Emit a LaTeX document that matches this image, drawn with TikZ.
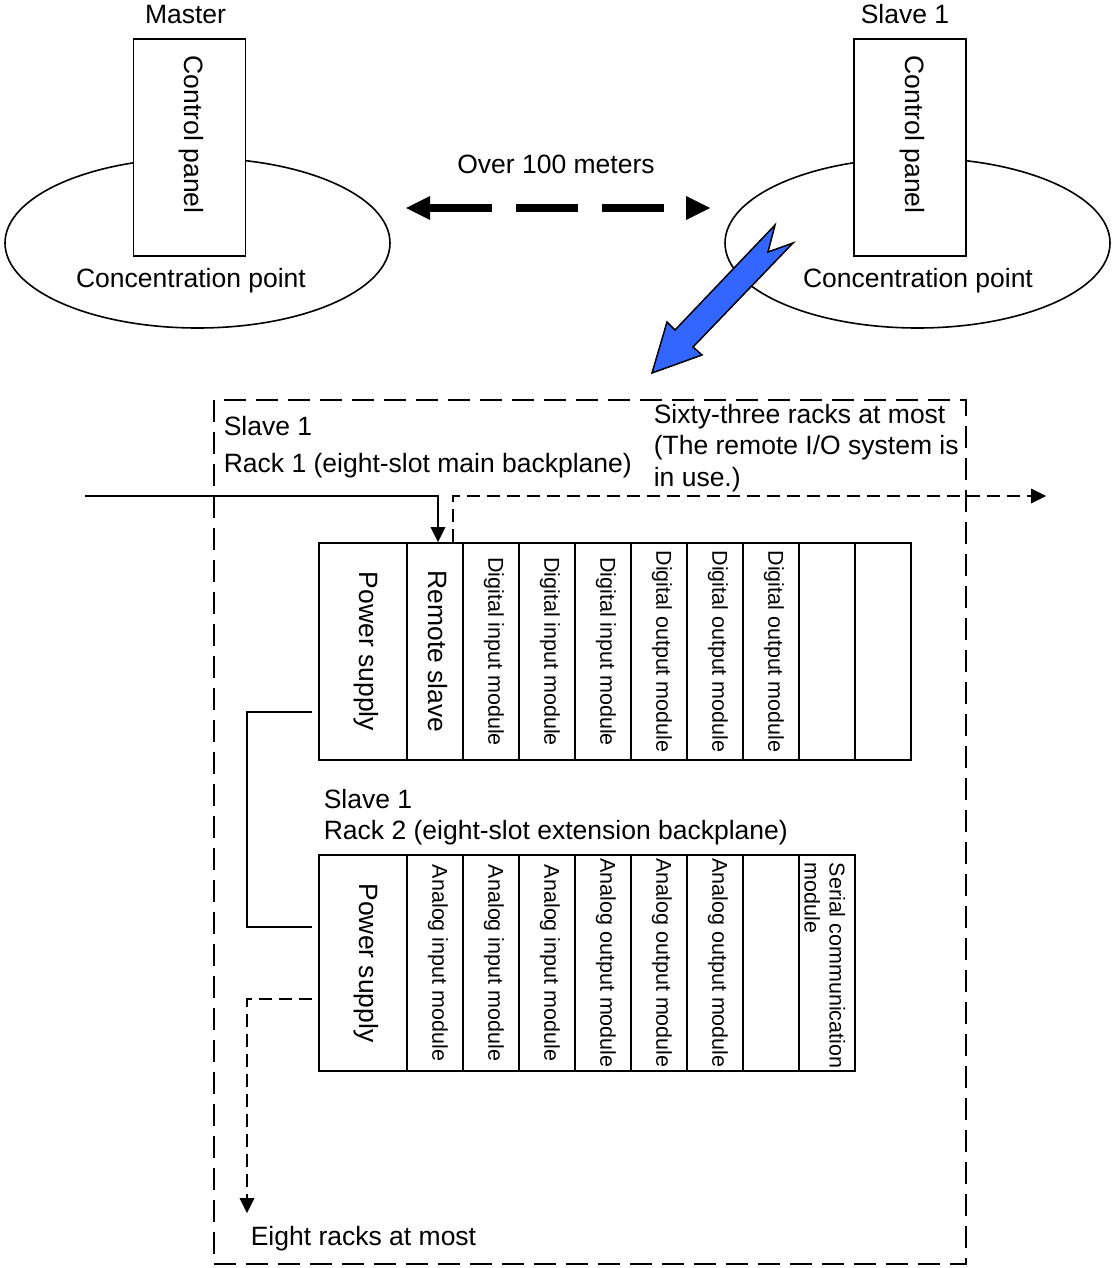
\documentclass[tikz,border=0pt]{standalone}
\usepackage{fontspec}
\setmainfont{Liberation Sans}
\usepackage{graphicx}
\usetikzlibrary{arrows.meta,shapes.geometric}
\definecolor{arrowblue}{RGB}{51,102,255}
% rotated slot caption, nudged towards the cap side without changing its box
\newcommand{\slotcaption}[1]{\rotatebox{-90}{\raisebox{3pt}[\height][\depth]{#1}}}

\begin{document}
\begin{tikzpicture}[x=1pt,y=-1pt,
  line width=1.6pt,
  big/.style={font=\fontsize{26.5}{31.5}\selectfont},
  small/.style={font=\fontsize{21.5}{25}\selectfont},
  txt/.style={inner sep=0pt},
  zone/.style={draw, ellipse, minimum width=385pt, minimum height=170pt, inner sep=0pt},
  panel/.style={draw, fill=white, minimum width=112pt, minimum height=217pt, inner sep=0pt},
  slot/.style={draw, inner sep=0pt, minimum width=56pt},
  psslot/.style={slot, minimum width=88pt},
  rackone/.style={minimum height=217pt},
  racktwo/.style={minimum height=216pt},
  frame/.style={draw, dash pattern=on 22pt off 10pt, line width=2.4pt,
    minimum width=752pt, minimum height=864pt, inner sep=0pt},
  cable/.style={line width=1.6pt},
  extdash/.style={line width=1.8pt, dash pattern=on 13pt off 7pt},
  tip/.style={-{Triangle[length=15pt,width=15pt,line width=0pt]}},
  farlink/.style={line width=8pt, dash pattern=on 62pt off 24pt,
    {Triangle[length=24pt,width=24pt,line width=0pt]}-{Triangle[length=24pt,width=24pt,line width=0pt]}},
  bigarrow/.style={draw=black, line width=1.5pt, fill=arrowblue, line join=miter},
]
\useasboundingbox (0,0) rectangle (1113,1268);

% --- master and slave stations ---
\node[zone] (mzone) at (197.5,243) {};
\node[zone] (szone) at (917.5,243) {};
\node[panel] (mpanel) at (189.5,147.5) {};
\node[panel] (spanel) at (910,147.5) {};
\node[big, txt, anchor=north] (mpaneltxt) at (191.5,55) {\rotatebox{-90}{Control panel}};
\node[big, txt, anchor=north] (spaneltxt) at (912,55) {\rotatebox{-90}{Control panel}};
\node[big, txt, anchor=base] (mname) at (185.5,24) {Master};
\node[big, txt, anchor=base] (sname) at (905,24) {Slave 1};
\node[big, txt, anchor=base] (mcp) at (191,287) {Concentration point};
\node[big, txt, anchor=base] (scp) at (918,287) {Concentration point};
\node[big, txt, anchor=base] (dist) at (556,174) {Over 100 meters};

% long-distance link
\coordinate (linkL) at (406,208);
\coordinate (linkR) at (710,208);
\draw[farlink] (linkL) -- (linkR);

% zoom-in arrow
\draw[bigarrow] (652,373) -- (667,322) -- (675,330) -- (775,225) -- (768,252)
  -- (793,243) -- (693,347) -- (702,355) -- cycle;

% --- slave 1 detail ---
\node[frame] (slavebox) at (590,832) {};
\node[big, txt, anchor=base west] (s1lbl) at (223,435) {Slave 1};
\node[big, txt, anchor=base west] (r1lbl) at (223,472) {Rack 1 (eight-slot main backplane)};
\node[big, txt, anchor=base west] (maxracks) at (653,423)
  {\begin{tabular}[t]{@{}l@{}}Sixty-three racks at most\\(The remote I/O system is\\in use.)\end{tabular}};

% rack 1
\node[psslot, rackone, big] (r1ps) at (363,651.5) {\slotcaption{Power supply}};
\node[slot, rackone, big] (r1rs) at (435,651.5) {\slotcaption{Remote slave}};
\foreach \i/\t in {0/Digital input module, 1/Digital input module, 2/Digital input module,
                   3/Digital output module, 4/Digital output module, 5/Digital output module,
                   6/, 7/}
  \node[slot, rackone, small] (r1m\i) at (491+56*\i,651.5) {\slotcaption{\t}};

% rack 2
\node[big, txt, anchor=base west] (s1lbl2) at (323,808) {Slave 1};
\node[big, txt, anchor=base west] (r2lbl) at (323,839) {Rack 2 (eight-slot extension backplane)};
\node[psslot, racktwo, big] (r2ps) at (363,963) {\slotcaption{Power supply}};
\foreach \i/\t in {0/Analog input module, 1/Analog input module, 2/Analog input module,
                   3/Analog output module, 4/Analog output module, 5/Analog output module,
                   6/, 7/}
  \node[slot, racktwo, small] (r2m\i) at (435+56*\i,963) {\slotcaption{\t}};
\node[small, txt, anchor=north east] (serialtxt) at (848,862)
  {\rotatebox{-90}{\begin{tabular}{@{}l@{}}Serial communication\\module\end{tabular}}};

% remote I/O line in and onward
\coordinate (feed) at (85,496);
\coordinate (onward) at (1046,496);
\draw[cable, tip] (feed) -| ([xshift=3pt]r1rs.north);
\draw[extdash, tip] ([xshift=18pt]r1rs.north) |- (onward);

% extension cable between racks
\coordinate (extA) at (312,712);
\coordinate (extB) at (312,927);
\draw[cable] (extA) -- ++(-65,0) |- (extB);

% further extension racks
\coordinate (nextA) at (312,999);
\coordinate (nextB) at (247,1213);
\draw[extdash, tip] (nextA) -| (nextB);
\node[big, txt, anchor=base west] (eightlbl) at (250,1245) {Eight racks at most};
\end{tikzpicture}
\end{document}
